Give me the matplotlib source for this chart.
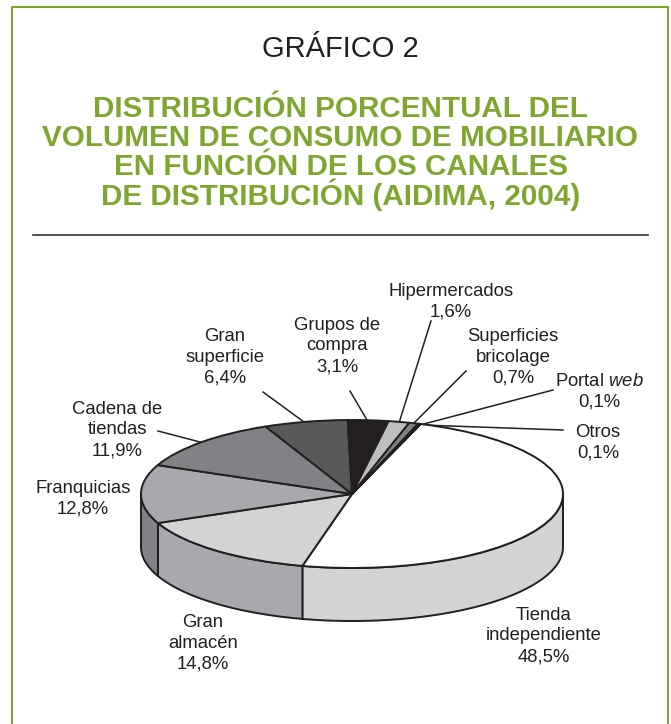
import numpy as np
import matplotlib
matplotlib.use('Agg')
import matplotlib.pyplot as plt
from matplotlib.patches import Polygon

canales = ['Tienda\nindependiente', 'Gran\nalmacén', 'Franquicias', 'Cadena de\ntiendas', 'Gran\nsuperficie',
           'Grupos de\ncompra', 'Hipermercados', 'Superficies\nbricolage', 'Portal $\\mathit{web}$', 'Otros']
valores = [48.5, 14.8, 12.8, 11.9, 6.4, 3.1, 1.6, 0.7, 0.1, 0.1]
col_top = ['#ffffff', '#d1d3d4', '#a7a9ac', '#808285', '#58595b', '#231f20', '#bcbec0', '#808285', '#d1d3d4', '#231f20']
col_lado = ['#d1d3d4', '#a7a9ac', '#808285', '#58595b', '#58595b', '#231f20', '#bcbec0', '#808285', '#d1d3d4', '#231f20']

W, H = 671, 724
verde = '#7fa72f'
plt.rcParams['font.family'] = ['Liberation Sans', 'DejaVu Sans']
plt.rcParams['mathtext.fontset'] = 'custom'
plt.rcParams['mathtext.it'] = 'Liberation Sans:italic'

fig = plt.figure(figsize=(W / 100, H / 100), dpi=100, facecolor='white')

# capa en pixeles para marco, textos y lineas
fondo = fig.add_axes([0, 0, 1, 1])
fondo.set_xlim(0, W)
fondo.set_ylim(H, 0)
fondo.axis('off')
# el marco queda cortado por abajo
fondo.plot([12, 12, 668, 668], [H + 5, 6.5, 6.5, H + 5], color=verde, lw=1.5)
fondo.plot([33, 648], [235, 235], color='#333333', lw=1.2)

fondo.text(340, 49, 'GRÁFICO 2', ha='center', va='center', fontsize=21, color='#231f20')
titulo = ['DISTRIBUCIÓN PORCENTUAL DEL', 'VOLUMEN DE CONSUMO DE MOBILIARIO',
          'EN FUNCIÓN DE LOS CANALES', 'DE DISTRIBUCIÓN (AIDIMA, 2004)']
for y, linea in zip([117, 146, 175, 205], titulo):
    fondo.text(340.5, y, linea, ha='center', va='baseline', fontsize=21.3, fontweight='bold', color=verde)

# tarta: elipse de la cara superior
cx, cy, rx, ry, fondo_pie = 352, 494, 211, 74, 53
ax = fig.add_axes([(cx - rx) / W, 1 - (cy + ry) / H, 2 * rx / W, 2 * ry / H])
ax.patch.set_alpha(0)
inicio = 71
grados = np.array(valores) / sum(valores) * 360
fin = inicio - np.cumsum(grados)
ini = np.concatenate([[inicio], fin[:-1]])
prof = fondo_pie / ry

# lados visibles (mitad inferior)
for a0, a1, c in zip(ini, fin, col_lado):
    t0, t1 = a1 % 360, a1 % 360 + (a0 - a1)
    # recorte de la porcion al tramo 180-360
    lo, hi = max(t0, 180), min(t1, 360)
    if hi <= lo:
        continue
    t = np.radians(np.linspace(lo, hi, 80))
    xs = np.cos(t)
    ys = np.sin(t)
    pts = np.r_[np.c_[xs, ys], np.c_[xs[::-1], ys[::-1] - prof]]
    ax.add_patch(Polygon(pts, closed=True, fc=c, ec='#231f20', lw=1.4, clip_on=False, zorder=1))

wedges, _ = ax.pie(valores, colors=col_top, startangle=inicio, counterclock=False, radius=1,
                   wedgeprops=dict(edgecolor='#231f20', linewidth=1.4, clip_on=False, zorder=2))
ax.set_aspect('auto')
ax.set_xlim(-1, 1)
ax.set_ylim(-1, 1)
ax.axis('off')

# etiquetas
pos_texto = [(544, 636), (203, 643.5), (83, 499), (117, 430), (225, 357), (337, 346),
             (451, 302), (513, 357), (599, 392), (598, 443)]
for nombre, v, (x, y) in zip(canales, valores, pos_texto):
    texto = nombre + '\n' + f'{v:.1f}%'.replace('.', ',')
    fondo.text(x, y, texto, ha='center', va='center', fontsize=13.3, color='#231f20', linespacing=1.3)

# lineas guia
guias = [((304, 422), (263, 392)), ((200, 442), (158, 431)), ((367, 420), (350, 391)), ((399, 423), (431, 321)),
         ((413, 424), (466, 371)), ((420, 425), (553, 390)), ((422, 425), (563, 430))]
for (x0, y0), (x1, y1) in guias:
    fondo.plot([x0, x1], [y0, y1], color='#231f20', lw=1.1)

fig.savefig('out.png', dpi=100)
